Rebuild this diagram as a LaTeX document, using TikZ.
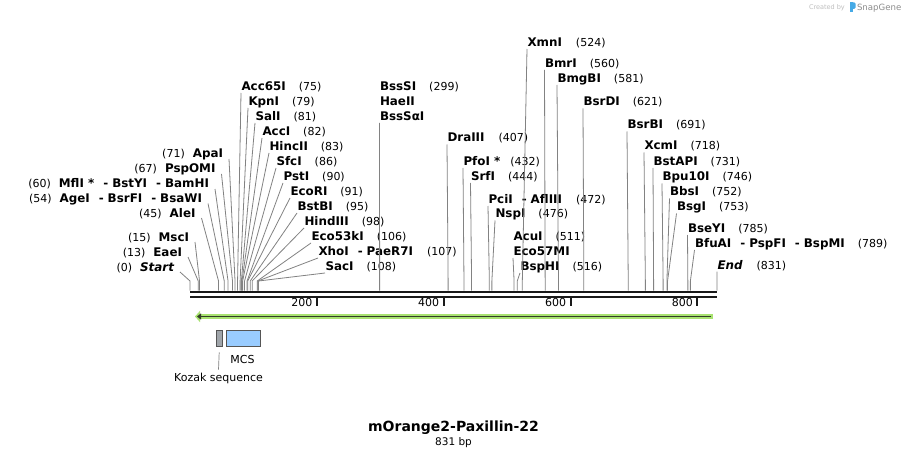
\documentclass[tikz,border=0pt]{standalone}
\usepackage{fontspec}
\setmainfont{DejaVu Sans}
\usetikzlibrary{arrows.meta}
\definecolor{cutColor}{RGB}{130,130,130}
\definecolor{featEdge}{RGB}{85,85,85}
\definecolor{kozakFill}{RGB}{160,165,170}
\definecolor{mcsFill}{RGB}{153,204,255}
\definecolor{orfGreen}{RGB}{168,226,112}
\definecolor{orfDark}{RGB}{50,60,40}
\definecolor{snapBlue}{RGB}{70,170,230}
\tikzset{
  enz/.style={inner sep=0pt, outer sep=0pt, font=\fontsize{11}{13}\selectfont},
  enzL/.style={enz, anchor=base west},
  enzR/.style={enz, anchor=base east},
  cutline/.style={draw=cutColor, line width=0.8pt},
  backbone/.style={draw=black!90, line width=2.6pt},
  tickmark/.style={draw=black!90, line width=2pt},
  featbox/.style={draw=featEdge, line width=0.8pt, inner sep=0pt, minimum height=15.5pt},
  featlbl/.style={enz, anchor=base},
  wmark/.style={inner sep=0pt, outer sep=0pt, anchor=base west},
}
\newcommand{\ename}[1]{{\fontsize{11.9}{13}\selectfont\bfseries #1}}
\newcommand{\enzsep}{\hspace{9pt}-\hspace{4pt}}
\begin{document}
\begin{tikzpicture}[x=1pt,y=-1pt]
\path[use as bounding box, fill=white] (0,0) rectangle (907,457);

% watermark
\node[wmark, text=black!25, font=\fontsize{6.5}{8}\selectfont] (createdby) at (809,10) {Created by};
\fill[snapBlue] (850,2.5) rectangle (852.6,12.5);
\fill[snapBlue, rounded corners=1.2pt] (852,2.5) rectangle (855.5,8.8);
\node[wmark, text=black!45, font=\fontsize{8.6}{10}\selectfont] (snapgene) at (857,10.5) {SnapGene};

% sequence line
\draw[backbone] (190,292) -- (717,292);
\draw[backbone] (190,296.8) -- (717,296.8);
\foreach \t in {200,400,600,800} {
  \draw[tickmark] ({190+\t*0.6342},297.5) -- ++(0,8);
  \node[enzR] (tick\t) at ({190+\t*0.6342-4.5},306.7) {\t};
}

% cut sites on the line
\foreach \n/\b in {start/0, eae/13, msc/15, ale/45, age/54, mfl/60, psp/67, apa/71,
    acc65/75, kpn/79, sal/81, acc/82, hinc/83, sfc/86, pst/90, ecori/91, bstb/95,
    hind/98, eco53/106, xho/107, sac/108, bsssa/299, dra/407, pfo/432, srf/444,
    pci/472, nsp/476, eco57/511, bsph/516, xmn/524, bmr/560, bmgb/581, bsrd/621,
    bsrb/691, xcm/718, bstap/731, bpu/746, bbs/752, bsg/753, bsey/785, bfua/789, end/831}
  \coordinate (\n-s) at ({190+\b*0.6342},290.5);

% labels left of the cluster
\node[enzR] (start) at (174,271) {(0)\hspace{8pt}\ename{\itshape Start}};
\node[enzR] (eae) at (182,256) {(13)\hspace{8pt}\ename{EaeI}};
\node[enzR] (msc) at (189,241) {(15)\hspace{8pt}\ename{MscI}};
\node[enzR] (ale) at (195.5,217) {(45)\hspace{8pt}\ename{AleI}};
\node[enzR] (age) at (202,202.5) {(54)\hspace{8pt}\ename{AgeI\enzsep BsrFI\enzsep BsaWI}};
\node[enzR] (mfl) at (209,188) {(60)\hspace{8pt}\ename{MflI *\enzsep BstYI\enzsep BamHI}};
\node[enzR] (psp) at (215.5,173) {(67)\hspace{8pt}\ename{PspOMI}};
\node[enzR] (apa) at (223,158) {(71)\hspace{8pt}\ename{ApaI}};

% labels right of the cluster
\node[enzL] (acc65) at (241.5,90.5) {\ename{Acc65I}\hspace{13pt}(75)};
\node[enzL] (kpn) at (248.5,105.5) {\ename{KpnI}\hspace{13pt}(79)};
\node[enzL] (sal) at (255.5,120.5) {\ename{SalI}\hspace{13pt}(81)};
\node[enzL] (acc) at (262.5,135.5) {\ename{AccI}\hspace{13pt}(82)};
\node[enzL] (hinc) at (269.5,150.5) {\ename{HincII}\hspace{13pt}(83)};
\node[enzL] (sfc) at (276.5,165.5) {\ename{SfcI}\hspace{13pt}(86)};
\node[enzL] (pst) at (283.5,180.5) {\ename{PstI}\hspace{13pt}(90)};
\node[enzL] (ecori) at (290.5,195.5) {\ename{EcoRI}\hspace{13pt}(91)};
\node[enzL] (bstb) at (297.5,210.5) {\ename{BstBI}\hspace{13pt}(95)};
\node[enzL] (hind) at (304.5,225.5) {\ename{HindIII}\hspace{13pt}(98)};
\node[enzL] (eco53) at (311.5,240.5) {\ename{Eco53kI}\hspace{13pt}(106)};
\node[enzL] (xho) at (318.5,255.5) {\ename{XhoI\enzsep PaeR7I}\hspace{14pt}(107)};
\node[enzL] (sac) at (325.5,270.5) {\ename{SacI}\hspace{13pt}(108)};

\node[enzL] (bsss) at (380,90.5) {\ename{BssSI}\hspace{13pt}(299)};
\node[enzL] (hae) at (380,105.5) {\ename{HaeII}};
\node[enzL] (bsssa) at (380,120.5) {\ename{BssSαI}};

% labels further right
\node[enzL] (dra) at (447.5,142) {\ename{DraIII}\hspace{14pt}(407)};
\node[enzL] (pfo) at (463.5,165.5) {\ename{PfoI *}\hspace{10pt}(432)};
\node[enzL] (srf) at (471,180.5) {\ename{SrfI}\hspace{13pt}(444)};
\node[enzL] (pci) at (488.5,203.5) {\ename{PciI\enzsep AflIII}\hspace{14pt}(472)};
\node[enzL] (nsp) at (495.5,218) {\ename{NspI}\hspace{13pt}(476)};
\node[enzL] (acu) at (513.5,240.5) {\ename{AcuI}\hspace{13pt}(511)};
\node[enzL] (eco57) at (513.5,255.5) {\ename{Eco57MI}};
\node[enzL] (bsph) at (520.5,270.5) {\ename{BspHI}\hspace{13pt}(516)};
\node[enzL] (xmn) at (527.5,46.5) {\ename{XmnI}\hspace{14pt}(524)};
\node[enzL] (bmr) at (545,67.5) {\ename{BmrI}\hspace{13pt}(560)};
\node[enzL] (bmgb) at (557.5,82.5) {\ename{BmgBI}\hspace{13pt}(581)};
\node[enzL] (bsrd) at (583.5,106) {\ename{BsrDI}\hspace{13pt}(621)};
\node[enzL] (bsrb) at (627.5,129) {\ename{BsrBI}\hspace{13pt}(691)};
\node[enzL] (xcm) at (644.5,150) {\ename{XcmI}\hspace{13pt}(718)};
\node[enzL] (bstap) at (653.5,165.5) {\ename{BstAPI}\hspace{13pt}(731)};
\node[enzL] (bpu) at (662.5,181) {\ename{Bpu10I}\hspace{13pt}(746)};
\node[enzL] (bbs) at (670,196) {\ename{BbsI}\hspace{13pt}(752)};
\node[enzL] (bsg) at (677,211) {\ename{BsgI}\hspace{13pt}(753)};
\node[enzL] (bsey) at (688,232.5) {\ename{BseYI}\hspace{13pt}(785)};
\node[enzL] (bfua) at (695,247.5) {\ename{BfuAI\enzsep PspFI\enzsep BspMI}\hspace{13pt}(789)};
\node[enzL] (end) at (717.5,269) {\ename{\itshape End}\hspace{14pt}(831)};

% connectors
\foreach \n in {start,eae,msc,ale,age,mfl,psp,apa}
  \draw[cutline] ([xshift=6pt,yshift=-1pt]\n.base east) -- ([yshift=9.5pt]\n-s) -- (\n-s);
\foreach \n in {acc65,kpn,sal,acc,hinc,sfc,pst,ecori,bstb,hind,eco53,xho,sac,
    bsssa,dra,pfo,srf,pci,nsp,eco57,bsph,xmn,bmr,bmgb,bsrd,bsrb,xcm,bstap,bpu,
    bbs,bsg,bsey,bfua,end}
  \draw[cutline] ([xshift=-0.5pt,yshift=-2.5pt]\n.base west) -- ([yshift=9.5pt]\n-s) -- (\n-s);

% open reading frame
\draw[line width=5.5pt, orfGreen, -{Triangle[length=5pt,width=11pt]}] (713,316.5) -- (195,316.5);
\draw[line width=1.8pt, orfDark, -{Triangle[length=4pt,width=6pt]}] (711,316.5) -- (197,316.5);

% features
\node[featbox, fill=kozakFill, minimum width=6.3pt] (kozak) at (219.2,338.3) {};
\node[featbox, fill=mcsFill, minimum width=34.7pt] (mcs) at (243.3,338.3) {};
\node[featlbl] (mcslbl) at (242.5,363.5) {MCS};
\node[featlbl] (kozaklbl) at (218.5,381) {Kozak sequence};
\draw[cutline, line width=0.7pt] ([yshift=-6pt]kozak.south) -- ([yshift=3pt]kozaklbl.north);

% title
\node[enz, anchor=base, font=\fontsize{14}{16}\selectfont\bfseries] (title) at (453.5,431.5) {mOrange2-Paxillin-22};
\node[enz, anchor=base, font=\fontsize{10.5}{12}\selectfont] (bp) at (453.5,445) {831 bp};
\end{tikzpicture}
\end{document}
